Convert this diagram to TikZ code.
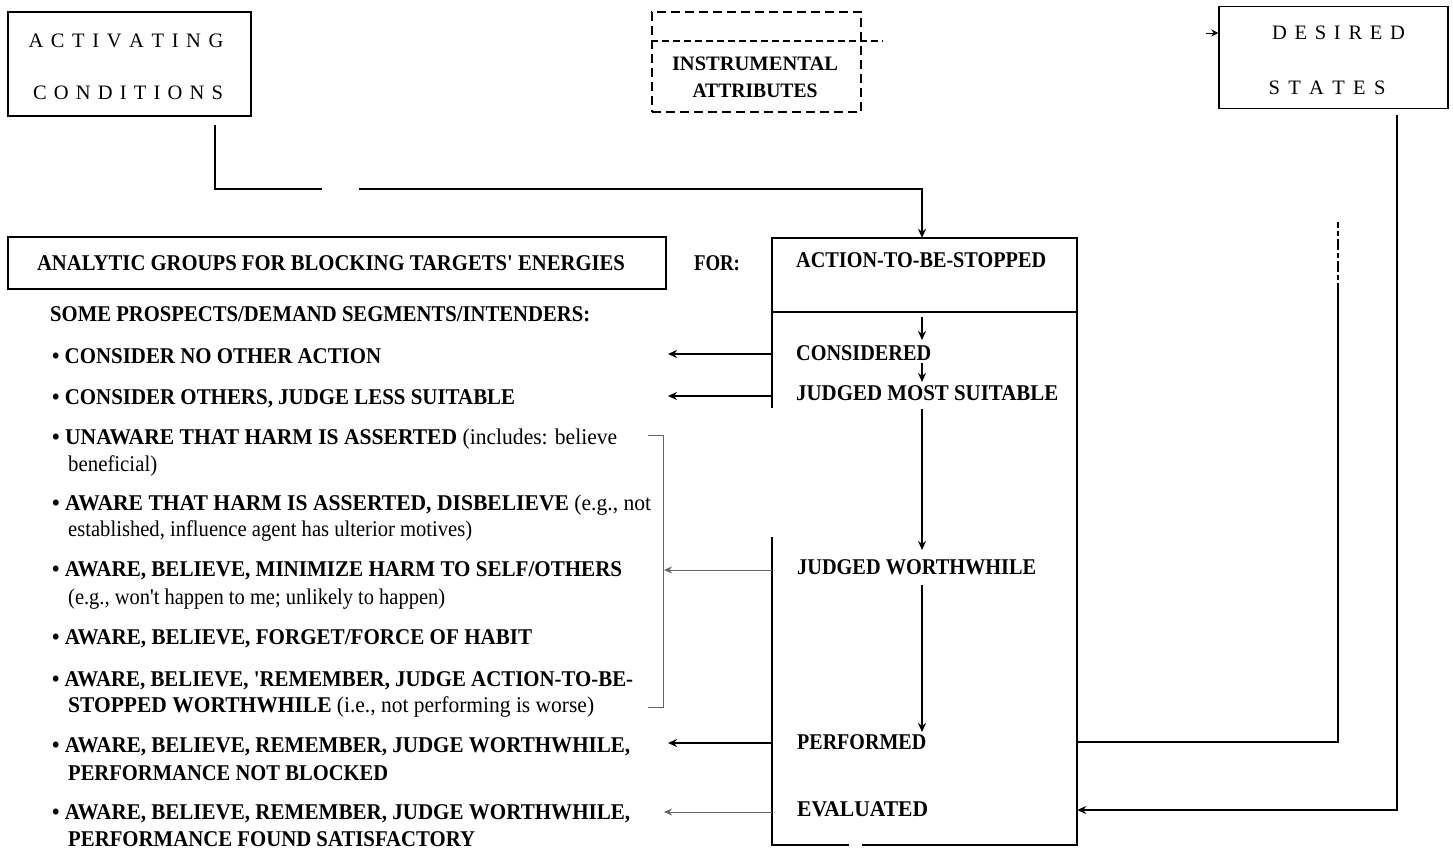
\documentclass[tikz,border=0pt]{standalone}
\usepackage{fontspec}
\usepackage{graphicx}
\setmainfont{Liberation Serif}
\newfontfamily\heavy{Liberation Serif}
\newfontfamily\spfont{Liberation Serif}
\usetikzlibrary{arrows.meta}
\newcommand\fitw[2]{\sbox0{#2}\pgfmathsetmacro\fitr{#1/\the\wd0}\scalebox{\fitr}[1]{\usebox0}}
\tikzset{
  ln/.style={line width=1.6pt, line cap=rect},
  gln/.style={line width=1pt, draw=black!60},
  arr/.style={-{Stealth[length=9pt,width=8pt]}},
  garr/.style={-{Stealth[length=8pt,width=7pt]}},
  boxnode/.style={draw, line width=1.4pt, inner sep=0pt},
  lt/.style={inner sep=0pt, anchor=base west, font=\heavy\bfseries\fontsize{22.5}{22.5}\selectfont},
  ct/.style={inner sep=0pt, anchor=base, font=\heavy\bfseries\fontsize{20.5}{20.5}\selectfont},
  sp/.style={inner sep=0pt, anchor=base, font=\spfont\fontsize{20.5}{20.5}\selectfont},
}
\begin{document}
\begin{tikzpicture}[x=1pt,y=-1pt]
\useasboundingbox (0,0) rectangle (1453,854);
\fill[white] (0,0) rectangle (1453,854);

% ---------- top boxes ----------
\node[boxnode, minimum width=243pt, minimum height=104pt] (act) at (129.5,64) {};
\node[sp] (actA) at (126,47) {\hbox to 195pt{A\hfil C\hfil T\hfil I\hfil V\hfil A\hfil T\hfil I\hfil N\hfil G}};
\node[sp] (actB) at (128,99) {\hbox to 190pt{C\hfil O\hfil N\hfil D\hfil I\hfil T\hfil I\hfil O\hfil N\hfil S}};

\node[draw, line width=1.4pt, dash pattern=on 9pt off 5pt, minimum width=209pt, minimum height=100pt, inner sep=0pt] (ins) at (756.5,62) {};
\coordinate (insR) at (883,41);
\draw[line width=1.4pt, dash pattern=on 7pt off 4pt] (ins.west |- insR) -- (insR);
\node[ct] (insA) at (755,70) {\fitw{166}{INSTRUMENTAL}};
\node[ct] (insB) at (755,97) {\fitw{125}{ATTRIBUTES}};

\node[boxnode, minimum width=229pt, minimum height=102pt] (des) at (1333.5,57.5) {};
\node[sp] (desA) at (1338.5,39) {\hbox to 133pt{D\hfil E\hfil S\hfil I\hfil R\hfil E\hfil D}};
\node[sp] (desB) at (1327,94) {\hbox to 117pt{S\hfil T\hfil A\hfil T\hfil E\hfil S}};
\coordinate (dtail) at (1206,33);
\draw[line width=1pt, -{Stealth[length=7pt,width=7pt]}] (dtail) -- (des.west |- dtail);

% ---------- middle header ----------
\node[boxnode, minimum width=658pt, minimum height=52pt] (ana) at (337,263) {};
\node[lt, anchor=base] (anaT) at (331,270) {\fitw{588}{ANALYTIC GROUPS FOR BLOCKING TARGETS' ENERGIES}};
\node[lt, anchor=base] (for) at (717,270) {\fitw{46}{FOR:}};

% ---------- action box ----------
\node[inner sep=0pt, minimum width=305pt, minimum height=607pt] (atbs) at (924.5,541.5) {};
\draw[ln] (772,407) -- (772,238) -- (1077,238) -- (1077,845) -- (863,845);
\draw[ln] (848,845) -- (772,845) -- (772,538);
\draw[ln] (772,312) -- (1077,312);

\node[lt] (head) at (796,267) {\fitw{250}{ACTION-TO-BE-STOPPED}};
\node[lt] (cons) at (796,360) {\fitw{135}{CONSIDERED}};
\node[lt] (jms) at (796,400) {\fitw{262}{JUDGED MOST SUITABLE}};
\node[lt] (jw) at (797,574) {\fitw{239}{JUDGED WORTHWHILE}};
\node[lt] (perf) at (797,749) {\fitw{129}{PERFORMED}};
\node[lt] (eval) at (797,816) {\fitw{131}{EVALUATED}};

\coordinate (xb) at (922,0);
\coordinate (a1s) at (922,318);
\coordinate (a1e) at (922,340);
\coordinate (a2s) at (922,364);
\coordinate (a2e) at (922,382);
\coordinate (a3s) at (922,410);
\coordinate (a3e) at (922,550);
\coordinate (a4s) at (922,586);
\coordinate (a4e) at (922,732);
\draw[ln, arr] (a1s) -- (a1e);
\draw[ln, arr] (a2s) -- (a2e);
\draw[ln, arr] (a3s) -- (a3e);
\draw[ln, arr] (a4s) -- (a4e);

% activating -> action
\coordinate (xa) at (215,0);
\coordinate (g1) at (321,189);
\coordinate (g2) at (360,189);
\draw[ln] ([yshift=-9pt]act.south -| xa) |- (g1);
\draw[ln, arr] (g2) -| (atbs.north -| xb);

% ---------- list ----------
\node[lt] (intro) at (50,321) {\fitw{540}{SOME PROSPECTS/DEMAND SEGMENTS/INTENDERS:}};
\node[lt] (b1) at (52,363) {\fitw{329}{• CONSIDER NO OTHER ACTION}};
\node[lt] (b2) at (52,404) {\fitw{463}{• CONSIDER OTHERS, JUDGE LESS SUITABLE}};
\node[lt] (b3) at (52,444) {\fitw{565}{• UNAWARE THAT HARM IS ASSERTED \mdseries(includes: believe}};
\node[lt] (b3b) at (68,471) {\mdseries\fitw{89}{beneficial)}};
\node[lt] (b4) at (52,510) {\fitw{599}{• AWARE THAT HARM IS ASSERTED, DISBELIEVE \mdseries(e.g., not}};
\node[lt] (b4b) at (68,536) {\mdseries\fitw{404}{established, influence agent has ulterior motives)}};
\node[lt] (b5) at (52,576) {\fitw{570}{• AWARE, BELIEVE, MINIMIZE HARM TO SELF/OTHERS}};
\node[lt] (b5b) at (68,604) {\mdseries\fitw{377}{(e.g., won't happen to me; unlikely to happen)}};
\node[lt] (b6) at (52,644) {\fitw{480}{• AWARE, BELIEVE, FORGET/FORCE OF HABIT}};
\node[lt] (b7) at (52,686) {\fitw{581}{• AWARE, BELIEVE, 'REMEMBER, JUDGE ACTION-TO-BE-}};
\node[lt] (b7b) at (68,712) {\fitw{526}{STOPPED WORTHWHILE \mdseries(i.e., not performing is worse)}};
\node[lt] (b8) at (52,752) {\fitw{578}{• AWARE, BELIEVE, REMEMBER, JUDGE WORTHWHILE,}};
\node[lt] (b8b) at (68,780) {\fitw{320}{PERFORMANCE NOT BLOCKED}};
\node[lt] (b9) at (52,819) {\fitw{578}{• AWARE, BELIEVE, REMEMBER, JUDGE WORTHWHILE,}};
\node[lt] (b9b) at (68,846) {\fitw{407}{PERFORMANCE FOUND SATISFACTORY}};

% ---------- left arrows ----------
\coordinate (xl) at (668,0);
\coordinate (xg) at (664,0);
\draw[ln, arr] (atbs.west |- 0,354) -- (xl |- 0,354);
\draw[ln, arr] (atbs.west |- 0,396) -- (xl |- 0,396);
\draw[ln, arr] (atbs.west |- 0,743) -- (xl |- 0,743);
\draw[gln, garr] (atbs.west |- 0,570) -- (xg |- 0,570);
\draw[gln, garr] (atbs.west |- 0,812) -- (xg |- 0,812);
\draw[gln] (648,435) -- (663,435) -- (663,707) -- (648,707);

% ---------- right loops ----------
\coordinate (r1) at (1338,742);
\coordinate (r1top) at (1338,293);
\coordinate (r1end) at (1338,223);
\draw[ln] (atbs.east |- r1) -- (r1) -- (r1top);
\draw[ln, dash pattern=on 9pt off 5pt on 3pt off 5pt] (r1top) -- (r1end);
\coordinate (r2) at (1397,810);
\draw[ln, arr] ([yshift=-7pt]des.south -| r2) -- (r2) -- (atbs.east |- r2);
\end{tikzpicture}
\end{document}
